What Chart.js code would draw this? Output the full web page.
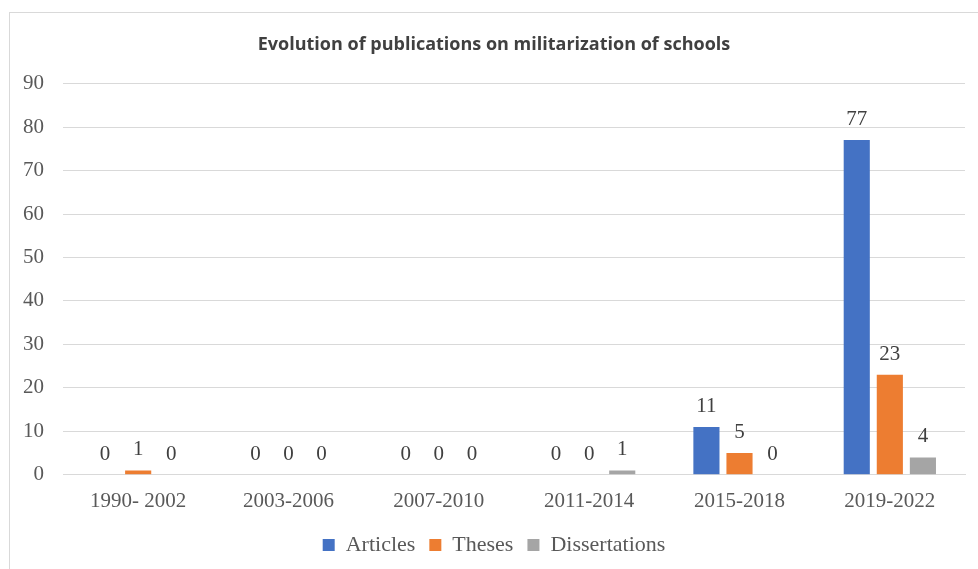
<!DOCTYPE html>
<html>
<head>
<meta charset="utf-8">
<script src="https://cdn.jsdelivr.net/npm/chart.js@4/dist/chart.umd.min.js"></script>
<style>
	body { margin: 0; background: #ffffff; overflow: hidden; }
	#marco { position: absolute; left: 9px; top: 12px; width: 980px; height: 570px; border: 1px solid #d9d9d9; background: #ffffff; }
	#grafico { position: absolute; left: 0; top: 0; }
</style>
</head>
<body>
<div id="marco"><canvas id="grafico" width="968" height="556"></canvas></div>
<script>
var periodos = ["1990- 2002", "2003-2006", "2007-2010", "2011-2014", "2015-2018", "2019-2022"];
var articulos = [0, 0, 0, 0, 11, 77];
var tesis = [1, 0, 0, 0, 5, 23];
var disertaciones = [0, 0, 0, 1, 0, 4];
var ticksY = [0, 10, 20, 30, 40, 50, 60, 70, 80, 90];

var fuenteSerif = "'Liberation Serif', 'Times New Roman', serif";

// etiquetas de valor encima de cada barra
var etiquetasBarras = {
	id: 'etiquetasBarras',
	afterDatasetsDraw: function(chart)
	{
		var ctx = chart.ctx;
		ctx.save();
		ctx.font = "21px " + fuenteSerif;
		ctx.fillStyle = "#404040";
		ctx.textAlign = "center";
		ctx.textBaseline = "alphabetic";
		chart.data.datasets.forEach(function(ds, i) {
			var meta = chart.getDatasetMeta(i);
			meta.data.forEach(function(barra, j) {
				ctx.fillText(String(ds.data[j]), barra.x, barra.y - 15);
			});
		});
		ctx.restore();
	}
};

var ctx = document.getElementById("grafico");
var myChart = new Chart(ctx, {
	type: 'bar',
	data: {
		labels: periodos,
		datasets: [
			{ label: "Articles", data: articulos, backgroundColor: "#4472C4" },
			{ label: "Theses", data: tesis, backgroundColor: "#ED7D31" },
			{ label: "Dissertations", data: disertaciones, backgroundColor: "#A5A5A5" }
		]
	},
	options: {
		responsive: false,
		animation: false,
		datasets: {
			bar: { categoryPercentage: 0.66, barPercentage: 0.79 }
		},
		layout: { padding: { left: 13, right: 13, top: 0, bottom: 3 } },
		plugins: {
			title: {
				display: true,
				text: "Evolution of publications on militarization of schools",
				color: "#404040",
				font: { family: "'Open Sans', 'Liberation Sans', sans-serif", size: 18, weight: 'bold' },
				padding: { top: 21, bottom: 28 }
			},
			legend: {
				position: 'bottom',
				labels: {
					color: "#595959",
					font: { family: fuenteSerif, size: 22 },
					boxWidth: 12,
					boxHeight: 12,
					padding: 14
				}
			},
			tooltip: { enabled: false }
		},
		scales: {
			x: {
				afterFit: function(eje) {
					eje.paddingLeft = 0;
					eje.paddingRight = 0;
				},
				grid: { display: false },
				border: { color: "#d9d9d9" },
				ticks: { color: "#595959", font: { family: fuenteSerif, size: 21 }, padding: 6 }
			},
			y: {
				min: 0,
				max: 90,
				afterBuildTicks: function(eje) {
					eje.ticks = ticksY.map(function(v) { return { value: v }; });
				},
				afterFit: function(eje) {
					eje.width = 40;
				},
				grid: { color: "#d9d9d9", drawTicks: false },
				border: { display: false },
				ticks: { color: "#595959", font: { family: fuenteSerif, size: 21 }, padding: 19 }
			}
		}
	},
	plugins: [etiquetasBarras]
});
</script>
</body>
</html>
